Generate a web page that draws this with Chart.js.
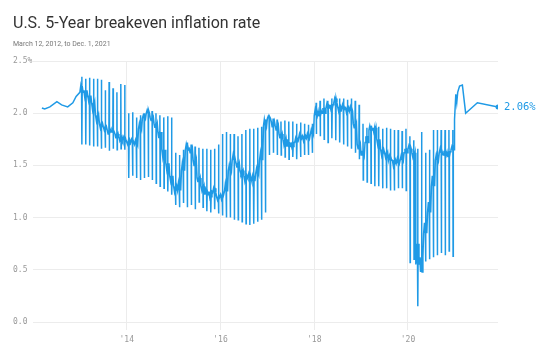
<!DOCTYPE html>
<html>
<head>
<meta charset="utf-8">
<script src="https://cdn.jsdelivr.net/npm/chart.js@4.4.1/dist/chart.umd.min.js"></script>
<style>
  body { margin: 0; background: #fff; }
  #wrap { position: relative; width: 558px; height: 361px; overflow: hidden; }
  #chart { position: absolute; left: 0; top: 0; }
  .title { position: absolute; left: 13px; top: 15px; font: 400 16px/16px Roboto, sans-serif; color: #333; white-space: nowrap; }
  .subtitle { position: absolute; left: 13px; top: 41px; font: 400 7px/7px Roboto, sans-serif; color: #777; white-space: nowrap; }
</style>
</head>
<body>
<div id="wrap">
  <canvas id="chart" width="558" height="361"></canvas>
  <div class="title">U.S. 5-Year breakeven inflation rate</div>
  <div class="subtitle">March 12, 2012, to Dec. 1, 2021</div>
</div>
<script>
// Smooth start, March to December 2012 (decimal years)
const startYears = [2012.19, 2012.25, 2012.36, 2012.51, 2012.61, 2012.74, 2012.85, 2012.92];
const startValues = [2.05, 2.04, 2.06, 2.11, 2.08, 2.06, 2.10, 2.16];

// Monthly readings Jan 2013 - Dec 2020: band level, mid-month level, spike top, spike bottom
const monthlyStart = 2013;
const bandValues = [
  2.20, 2.22, 2.17, 2.10, 1.98, 1.90, 1.87, 1.84, 1.82, 1.80, 1.77, 1.74,
  1.74, 1.72, 1.70, 1.85, 1.95, 2.00, 1.96, 1.90, 1.82, 1.65, 1.52, 1.40,
  1.30, 1.26, 1.45, 1.65, 1.66, 1.55, 1.38, 1.30, 1.22, 1.25, 1.24, 1.20,
  1.22, 1.25, 1.45, 1.55, 1.52, 1.45, 1.40, 1.38, 1.35, 1.42, 1.55, 1.88,
  1.95, 1.92, 1.88, 1.80, 1.75, 1.68, 1.72, 1.72, 1.76, 1.78, 1.76, 1.80,
  1.98, 2.02, 2.00, 2.05, 2.08, 2.10, 2.06, 2.04, 2.05, 2.02, 1.90, 1.70,
  1.60, 1.72, 1.84, 1.86, 1.75, 1.65, 1.62, 1.55, 1.55, 1.52, 1.55, 1.62,
  1.66, 1.62, 0.55, 0.62, 0.85, 1.05, 1.30, 1.55, 1.62, 1.60, 1.63, 1.65
];
const midValues = [
  2.26, 2.16, 2.12, 2.04, 1.93, 1.86, 1.84, 1.80, 1.84, 1.76, 1.74, 1.77,
  1.70, 1.75, 1.74, 1.90, 1.98, 2.03, 1.93, 1.86, 1.76, 1.58, 1.46, 1.35,
  1.25, 1.33, 1.52, 1.70, 1.62, 1.50, 1.34, 1.26, 1.26, 1.20, 1.28, 1.17,
  1.18, 1.32, 1.50, 1.60, 1.48, 1.42, 1.35, 1.42, 1.40, 1.47, 1.62, 1.94,
  1.97, 1.87, 1.84, 1.76, 1.70, 1.72, 1.68, 1.76, 1.80, 1.74, 1.80, 1.84,
  2.03, 1.97, 2.05, 2.09, 2.04, 2.14, 2.02, 2.08, 2.01, 2.06, 1.86, 1.66,
  1.64, 1.78, 1.88, 1.82, 1.70, 1.60, 1.58, 1.59, 1.50, 1.56, 1.59, 1.66,
  1.69, 1.58, 0.75, 0.48, 0.95, 1.15, 1.40, 1.60, 1.66, 1.64, 1.58, 1.68
];
const spikeHighs = [
  2.35, 2.33, 2.34, 2.33, 2.33, 2.32, 2.22, 2.30, 2.24, 2.20, 2.28, 2.27,
  2.00, 2.01, 1.96, 1.98, 2.00, 2.02, 2.02, 2.00, 1.98, 1.96, 1.97, 1.96,
  1.62, 1.60, 1.65, 1.72, 1.70, 1.68, 1.67, 1.66, 1.66, 1.65, 1.66, 1.70,
  1.80, 1.82, 1.80, 1.80, 1.78, 1.80, 1.84, 1.85, 1.85, 1.86, 1.87, 1.90,
  1.97, 1.95, 1.94, 1.92, 1.93, 1.92, 1.92, 1.90, 1.91, 1.90, 1.89, 1.90,
  2.10, 2.12, 2.14, 2.12, 2.14, 2.16, 2.14, 2.14, 2.13, 2.14, 2.12, 2.08,
  1.90, 1.86, 1.88, 1.88, 1.87, 1.85, 1.86, 1.85, 1.84, 1.84, 1.83, 1.85,
  1.78, 1.74, 1.66, 1.82, 1.62, 1.65, 1.84, 1.84, 1.84, 1.84, 1.84, 1.84
];
const spikeLows = [
  1.70, 1.70, 1.69, 1.68, 1.68, 1.66, 1.67, 1.64, 1.66, 1.65, 1.66, 1.65,
  1.38, 1.40, 1.38, 1.36, 1.38, 1.39, 1.36, 1.33, 1.30, 1.28, 1.25, 1.22,
  1.12, 1.10, 1.14, 1.10, 1.12, 1.08, 1.15, 1.10, 1.06, 1.05, 1.08, 1.04,
  1.02, 1.00, 1.00, 0.98, 0.98, 0.96, 0.94, 0.93, 0.94, 0.96, 0.98, 1.05,
  1.60, 1.62, 1.60, 1.60, 1.58, 1.56, 1.58, 1.56, 1.58, 1.60, 1.60, 1.62,
  1.80, 1.78, 1.75, 1.72, 1.76, 1.74, 1.72, 1.70, 1.68, 1.66, 1.62, 1.56,
  1.36, 1.34, 1.33, 1.30, 1.30, 1.28, 1.28, 1.26, 1.26, 1.28, 1.28, 1.26,
  0.57, 0.60, 0.15, 0.52, 0.58, 0.60, 0.62, 0.64, 0.66, 0.64, 0.68, 0.63
];

// 2021 tail up to Dec. 1, 2021
const endYears = [2020.985, 2021.0, 2021.02, 2021.04, 2021.06, 2021.10, 2021.16, 2021.23, 2021.48, 2021.92];
const endValues = [1.91, 1.94, 2.18, 2.10, 2.20, 2.26, 2.27, 2.00, 2.10, 2.06];

const xTicks = [2014, 2016, 2018, 2020];
const yTicks = [0, 0.5, 1, 1.5, 2, 2.5];

const lineColor = '#1f9ae6';
const monoFont = "'DejaVu Sans Mono', monospace";

// build the point list
const points = [];
startYears.forEach((yr, i) => points.push({ x: yr, y: startValues[i] }));
bandValues.forEach((b, i) => {
  const t = monthlyStart + i / 12;
  const m = midValues[i];
  points.push(
    { x: t, y: b },
    { x: t + 0.018, y: m },
    { x: t + 0.036, y: b },
    { x: t + 0.04, y: spikeHighs[i] },
    { x: t + 0.045, y: spikeLows[i] },
    { x: t + 0.05, y: m },
    { x: t + 0.068, y: b }
  );
});
endYears.forEach((yr, i) => points.push({ x: yr, y: endValues[i] }));

const lastIndex = points.length - 1;

// label next to the last point
const endLabel = {
  id: 'endLabel',
  afterDatasetsDraw(chart) {
    const el = chart.getDatasetMeta(0).data[lastIndex];
    const ctx = chart.ctx;
    ctx.save();
    ctx.font = '10.5px ' + monoFont;
    ctx.fillStyle = lineColor;
    ctx.textBaseline = 'middle';
    ctx.fillText(endValues[endValues.length - 1].toFixed(2) + '%', el.x + 6, el.y + 0.5);
    ctx.restore();
  }
};

const ctx = document.getElementById('chart').getContext('2d');
new Chart(ctx, {
  type: 'line',
  data: {
    datasets: [{
      data: points,
      borderColor: lineColor,
      backgroundColor: lineColor,
      borderWidth: 1.5,
      tension: 0,
      pointRadius: c => c.dataIndex === lastIndex ? 2.5 : 0,
      pointBorderWidth: 0
    }]
  },
  options: {
    responsive: false,
    animation: false,
    layout: { padding: { left: 13, right: 60, top: 61, bottom: 12 } },
    plugins: {
      legend: { display: false },
      tooltip: { enabled: false }
    },
    scales: {
      x: {
        type: 'linear',
        min: 2012,
        max: 2021.92,
        afterBuildTicks: scale => { scale.ticks = xTicks.map(v => ({ value: v })); },
        afterFit: scale => { scale.height = 27; },
        grid: { color: '#ececec', tickLength: 8 },
        border: { display: false },
        ticks: {
          color: '#999',
          font: { family: monoFont, size: 8 },
          padding: 5,
          maxRotation: 0,
          callback: v => "'" + String(v).slice(2)
        }
      },
      y: {
        min: 0,
        max: 2.5,
        afterBuildTicks: scale => { scale.ticks = yTicks.map(v => ({ value: v })); },
        afterFit: scale => { scale.width = 20; },
        grid: { color: '#ececec', drawTicks: false },
        border: { display: false },
        ticks: {
          color: '#999',
          font: { family: monoFont, size: 8 },
          padding: 0,
          crossAlign: 'far',
          callback: v => v === 2.5 ? '2.5%' : v.toFixed(1)
        }
      }
    }
  },
  plugins: [endLabel]
});
</script>
</body>
</html>
